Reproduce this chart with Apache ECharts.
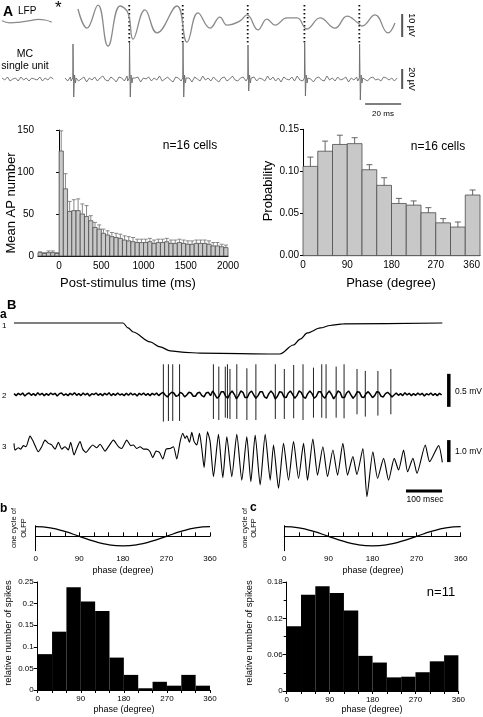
<!DOCTYPE html>
<html><head><meta charset="utf-8">
<script src="https://cdn.jsdelivr.net/npm/echarts@6/dist/echarts.min.js"></script>
<style>html,body{margin:0;padding:0;background:#fff}#c{width:483px;height:717px}</style>
</head><body><div id="c"></div>
<script>
// ---------------- DATA ----------------
// Panel A: LFP (ms, µV)
const LFP_TRACE = [[7.2,7.4],[12.2,-0.9],[18.3,9.1],[23.9,-8.7],[30.6,8.7],[35.0,5.7],[37.8,-5.7],[44.4,7.0],[51.1,-3.0],[62.2,8.7],[67.8,-7.0],[73.9,5.7],[80.6,-0.9],[86.1,3.9],[90.0,0.4],[97.2,2.2],[101.1,4.8],[107.2,-1.7],[112.2,3.0],[116.7,0.4],[123.3,3.5],[128.9,3.5],[134.4,-1.3],[141.7,3.5],[150.0,-0.9],[156.7,4.3],[162.8,1.3],[165.0,0],[172.2,4.8],[179.4,-3.0],[183.3,1.3]];
const LFP_PRE = [[0,2.3],[4.4,1.4],[10,1.7],[15.6,2.3],[20.2,2.9],[23.9,2.6],[27.6,1.7]];
// MC single unit (µV), sampled every 1.5 ms
const UNIT_NOISE = [1,-2,2,-1,3,-2,0,2,-3,1,-1,2,-2,1,3,-1,-2,2,0,-3,2,1,-2,3,-1,-2,1,2,-3,1,0,2,-2,1,-1,3,-2,0,2,-1,-3,2,1,-2,2,-1,1,-3,2,0,-2,3,-1,1,-2,2,-1,-3,1,2,-2,0,3,-1,-2,1,2,-3,1,-1,2,-2,1,0,-2,3,-1,2,-2,1,-3,2,0,-1,2,-2,3,-1,1,-2,2,0,-3,1,2,-1,-2,3,-1,1,-2,2,-1,0,2,-3,1,-1,2,-2,3,-1,-2,1,2,-1,0,-2,2,1,-1,1,-2,1];
const UNIT_PRE_NOISE = [1,-1,2,-2,0,1,-2,2,-1,1,-2,1,0,-1,2,-2,1,-1,2,0];
const SPIKE_TIMES = [4.3,35.7,65.4,101.5,133.0,163.5];
const SPIKE_PEAKS = [35,37,36,34,36,35];
const SPIKE_TROUGHS = [-18,-18,-18,-12,-17,-21];
const SPIKE_SHAPE_DT = [-0.9,-0.35,0,0.15,0.55,1.0,1.5,1.9];
const SPIKE_SHAPE_V = [-2,-4,1,null,null,4,-4,1]; // null -> peak / trough
// PSTH (50 ms bins from -250 ms)
const PSTH_MEAN = [4,3,4,4,3,125,80,53,54,54,50,47,42,34,32,27,25,23,22,21,19,18,17,16,16,16,17,15,16,16,17,15,15,16,15,14,14,15,15,15,14,12,12,11,10];
const PSTH_ERR = [1,1,2,2,1,24,18,12,13,14,12,13,6,6,5,5,5,5,5,5,5,5,5,4,4,4,4,4,4,4,4,4,4,4,4,4,4,4,4,4,4,4,4,3,3];
// Phase probability (30 deg bins)
const PHASE_PROB = [0.106,0.124,0.132,0.133,0.102,0.0835,0.062,0.060,0.051,0.039,0.034,0.072];
const PHASE_ERR = [0.011,0.012,0.011,0.007,0.006,0.009,0.006,0.005,0.006,0.005,0.006,0.006];
// Panel B traces (ms)
const TRACE1 = [[0,0],[303,0],[317,-0.16],[331,-0.29],[378,-0.61],[406,-0.77],[434,-0.9],[475,-0.95],[517,-0.97],[739,-1.0],[776,-0.71],[795,-0.52],[815,-0.32],[851,-0.16],[878,-0.08],[915,-0.03],[1190,0]];
const TRACE2 = [0.01,-0.02,0.015,-0.01,0.02,-0.025,0.005,0.02,-0.015,0.01,
-0.02,0.025,-0.01,0.015,-0.02,0.01,-0.015,0.02,-0.005,0.015,
-0.025,0.01,0.02,-0.015,0.005,-0.02,0.015,-0.01,0.025,-0.015,
0.01,-0.02,0.02,-0.01,0.015,-0.025,0.01,-0.005,0.02,-0.015,
0.01,-0.02,0.015,-0.01,0.025,-0.02,0.01,-0.015,0.02,-0.01,
0.005,-0.02,0.015,-0.015,0.02,-0.01,0.01,-0.025,0.015,-0.01,
0.02,-0.015,0.01,-0.02,0.015,-0.01,0.02,-0.02,0.01,
0.03,-0.01,-0.04,0.0,0.03,0.02,-0.03,-0.02,0.03,0.01,
-0.04,-0.01,0.03,0.02,-0.03,-0.03,0.02,0.03,-0.02,-0.04,
0.02,0.03,-0.02,
0.05,0.0,-0.06,-0.03,0.04,0.04,-0.03,-0.06,0.01,0.05,
0.0,-0.07,-0.02,0.05,0.03,-0.05,-0.05,0.02,0.05,-0.01,
-0.06,-0.02,0.04,0.04,-0.04,-0.06,0.01,0.05,0.01,-0.07,
-0.03,0.04,0.03,-0.04,-0.05,0.02,0.05,0.0,-0.06,-0.02,
0.05,0.03,-0.04,-0.06,0.01,0.05,0.01,-0.06,-0.03,0.04,
0.04,-0.03,-0.06,0.01,0.05,0.0,-0.07,-0.02,0.05,0.03,
-0.05,-0.05,0.02,0.05,-0.01,-0.06,-0.02,0.04,0.03,-0.04,
-0.05,0.01,0.04,0.0,-0.05,-0.02,0.04,0.03,-0.03,-0.04,
0.01,0.03,0.0,-0.04,-0.01,
0.02,-0.015,0.01,-0.02,0.025,-0.01,0.015,-0.02,0.01,-0.015,0.02,-0.01,0.015,-0.025,0.01,-0.01,0.02,-0.015,0.01,-0.02,0.015,-0.01];
const TRACE2_DT = 6;
const SPIKE2_T = [415,429,441,460,554,569,587,593,600,619,647,672,726,751,777,803,832,855,867,895,917,953,976,1011,1047];
const SPIKE2_TOP = [0.455,0.455,0.455,0.455,0.455,0.42,0.42,0.455,0.384,0.455,0.394,0.455,0.455,0.384,0.444,0.455,0.404,0.455,0.455,0.42,0.455,0.384,0.354,0.354,0.384];
const SPIKE2_BOT = [-0.414,-0.404,-0.404,-0.404,-0.374,-0.389,-0.354,-0.364,-0.374,-0.374,-0.389,-0.389,-0.374,-0.374,-0.364,-0.389,-0.354,-0.354,-0.364,-0.354,-0.364,-0.303,-0.338,-0.323,-0.303];
const TRACE3 = [[0,0.15],[2.8,-0.15],[12.1,-0.05],[18.6,-0.11],[26,0.05],[33.4,0],[44.5,0.48],[53.8,0.23],[67.7,-0.23],[77,0],[86.2,0.3],[95.5,0.15],[104.7,0.08],[114,-0.11],[123.3,0.2],[132.5,-0.11],[141.8,0],[151,-0.15],[157.5,0.2],[166.8,-0.38],[174.2,-0.08],[183.5,0.23],[190.9,-0.11],[200.2,-0.26],[209.4,-0.08],[218.7,0.08],[229.8,-0.05],[239.1,0.11],[253,-0.2],[262.3,0],[276.2,0.3],[290.1,0],[299.3,-0.08],[313.2,0.3],[324.4,0.05],[331.8,0.08],[341,-0.08],[350.3,0],[359.6,-0.11],[368.8,-0.11],[378.1,-0.23],[385.5,-0.5],[394.8,-0.2],[404.1,-0.26],[413.3,-0.56],[422.6,-0.11],[433.7,-0.08],[443,0],[452.2,-0.56],[461.5,0.23],[468.9,0.61],[475.4,0.38],[480,0.5],[487.5,0.2],[493.9,0.65],[500.4,0.23],[507.8,0.08],[515.3,0.61],[521.7,-0.08],[528.2,-0.95],[537.5,0.68],[544.9,0.23],[554.2,-1.36],[568.1,0.56],[580.1,-1.41],[591.3,0.45],[605.1,-1.36],[619,0.56],[632.9,-1.52],[646.8,0.45],[658,-1.59],[670,0.53],[683.9,-1.74],[697.8,0.56],[711.7,-1.52],[721,0.08],[734.9,-1.89],[748.8,0.15],[762.7,-1.52],[776.6,0.23],[790.5,-1.44],[804.4,0.15],[815.5,-1.52],[830.3,0.35],[843.3,-1.29],[858.1,0],[871.1,-1.36],[885.9,-0.15],[898.9,-1.29],[913.7,0.15],[926.7,-1.29],[941.5,-0.45],[952.6,-1.26],[969.3,-0.08],[980.5,-2.27],[997.1,-0.23],[1010.1,-1.44],[1026.8,-0.53],[1040.7,-1.52],[1056.4,-0.53],[1068.5,-1.06],[1082.4,-0.15],[1093.5,-1.14],[1108.3,-0.53],[1119.5,-1.21],[1142.6,0.08],[1154.7,-0.68],[1179.7,0.05],[1190,-0.71]];
// Panels b / c
const OLFP_PHASE = [0,30,60,90,120,150,180,210,240,270,300,330,360];
const OLFP_VAL = [1,0.87,0.5,0,-0.5,-0.87,-1,-0.87,-0.5,0,0.5,0.87,1];
const HIST_B = [0.083,0.135,0.238,0.205,0.183,0.075,0.035,0.004,0.019,0.01,0.035,0.01];
const HIST_C = [0.107,0.159,0.173,0.162,0.133,0.058,0.047,0.0225,0.0236,0.031,0.049,0.059];

// ---------------- BUILD ----------------
const FONT = 'Liberation Sans, Arial, Helvetica, sans-serif';
function unitTrace(noise, dt, times, peaks, troughs) {
  const pts = [];
  noise.forEach((v, i) => {
    const t = i * dt;
    if (!times.some(s => t > s - 1.2 && t < s + 2.1)) pts.push([t, v]);
  });
  times.forEach((s, k) => {
    SPIKE_SHAPE_DT.forEach((d, j) => {
      let v = SPIKE_SHAPE_V[j];
      if (j === 3) v = peaks[k];
      if (j === 4) v = troughs[k];
      pts.push([s + d, v]);
    });
  });
  pts.sort((a, b) => a[0] - b[0]);
  return pts;
}
const unitMain = unitTrace(UNIT_NOISE, 1.5, SPIKE_TIMES, SPIKE_PEAKS, SPIKE_TROUGHS);
const unitPre = UNIT_PRE_NOISE.map((v, i) => [i * 1.5, v]);
const psthData = PSTH_MEAN.map((v, i) => [-250 + i * 50, -200 + i * 50, v, PSTH_ERR[i]]);
const phaseData = PHASE_PROB.map((v, i) => [i * 30, i * 30 + 30, v, PHASE_ERR[i]]);
const histBData = HIST_B.map((v, i) => [i * 30, i * 30 + 30, v, 0]);
const histCData = HIST_C.map((v, i) => [i * 30, i * 30 + 30, v, 0]);
const trace2 = TRACE2.map((v, i) => [i * TRACE2_DT, v]);
const spikes2 = SPIKE2_T.map((t, i) => [t, SPIKE2_TOP[i], SPIKE2_BOT[i]]);
const olfp = OLFP_PHASE.map((p, i) => [p, OLFP_VAL[i]]);

const grids = [
  {left:65, top:3, width:418, height:46},      //0 LFP
  {left:2, top:3, width:52, height:46},        //1 LFP pre
  {left:65, top:40, width:418, height:65},     //2 unit
  {left:2, top:40, width:52, height:65},       //3 unit pre
  {left:38, top:130, width:190, height:126},   //4 PSTH
  {left:303, top:129.3, width:177, height:126.4}, //5 phase
  {left:14, top:323, width:469, height:31},    //6 trace1
  {left:14, top:358, width:469, height:69.3},  //7 trace2
  {left:14, top:426.9, width:469, height:72.6},//8 trace3
  {left:35.7, top:525.7, width:174.3, height:25}, //9 sine b
  {left:37.7, top:582, width:172.3, height:108},  //10 hist b
  {left:284.3, top:525.7, width:176.4, height:25},//11 sine c
  {left:286.7, top:582, width:171.7, height:109}  //12 hist c
].map(g => Object.assign({containLabel:false, outerBoundsMode:'none'}, g));

const hid = (gi, min, max) => ({type:'value', gridIndex:gi, min, max, show:false, splitLine:{show:false}});
const lineAx = {show:true, lineStyle:{color:'#000', width:1}};
const lbl = (size, extra) => Object.assign({color:'#000', fontSize:size, fontFamily:FONT}, extra || {});

const xAxis = [
  hid(0,0,232.2), hid(1,0,28.9), hid(2,0,232.2), hid(3,0,28.9),
  {type:'value', gridIndex:4, min:-250, max:2000, interval:250, axisLine:lineAx, axisTick:{show:false}, splitLine:{show:false},
   axisLabel:lbl(10,{margin:5, formatter:v => (v >= 0 && v % 500 === 0) ? String(v) : ''})},
  {type:'value', gridIndex:5, min:0, max:360, interval:90, axisLine:lineAx, axisTick:{show:false}, splitLine:{show:false},
   axisLabel:lbl(10,{margin:5, alignMaxLabel:'right'})},
  hid(6,0,1303), hid(7,0,1303), hid(8,0,1303),
  {type:'value', gridIndex:9, min:0, max:360, interval:30, axisLine:lineAx, axisTick:{show:true, inside:true, length:4, lineStyle:{color:'#000'}}, splitLine:{show:false},
   axisLabel:lbl(8,{margin:4, formatter:v => v % 90 === 0 ? String(v) : ''})},
  {type:'value', gridIndex:10, min:0, max:360, interval:30, axisLine:lineAx, axisTick:{show:true, length:3, lineStyle:{color:'#000'}}, splitLine:{show:false},
   axisLabel:lbl(8,{margin:5, formatter:v => v % 90 === 0 ? String(v) : ''})},
  {type:'value', gridIndex:11, min:0, max:360, interval:30, axisLine:lineAx, axisTick:{show:true, inside:true, length:4, lineStyle:{color:'#000'}}, splitLine:{show:false},
   axisLabel:lbl(8,{margin:4, formatter:v => v % 90 === 0 ? String(v) : ''})},
  {type:'value', gridIndex:12, min:0, max:360, interval:30, axisLine:lineAx, axisTick:{show:true, length:3, lineStyle:{color:'#000'}}, splitLine:{show:false},
   axisLabel:lbl(8,{margin:5, formatter:v => v % 90 === 0 ? String(v) : ''})}
];
const yAxis = [
  hid(0,-10,10), hid(1,-10,10), hid(2,-26,39), hid(3,-26,39),
  {type:'value', gridIndex:4, min:0, max:150, interval:50, axisLine:lineAx, axisTick:{show:true, length:3, lineStyle:{color:'#000'}}, splitLine:{show:false}, axisLabel:lbl(10,{margin:4})},
  {type:'value', gridIndex:5, min:0, max:0.15, interval:0.05, axisLine:lineAx, axisTick:{show:true, length:3, lineStyle:{color:'#000'}}, splitLine:{show:false}, axisLabel:lbl(10,{margin:4, formatter:v => v.toFixed(2)})},
  hid(6,-1,0), hid(7,-0.5,0.55), hid(8,-2.4,0.9),
  {type:'value', gridIndex:9, min:-1.49, max:1.1, axisLine:lineAx, axisTick:{show:false}, axisLabel:{show:false}, splitLine:{show:false}},
  {type:'value', gridIndex:10, min:0, max:0.25, interval:0.05, axisLine:lineAx, axisTick:{show:true, length:4, lineStyle:{color:'#000'}}, splitLine:{show:false}, axisLabel:lbl(8,{margin:4})},
  {type:'value', gridIndex:11, min:-1.49, max:1.1, axisLine:lineAx, axisTick:{show:false}, axisLabel:{show:false}, splitLine:{show:false}},
  {type:'value', gridIndex:12, min:0, max:0.18, interval:0.06, axisLine:lineAx, axisTick:{show:true, length:4, lineStyle:{color:'#000'}}, minorTick:{show:true, splitNumber:2, length:3, lineStyle:{color:'#000'}}, splitLine:{show:false}, axisLabel:lbl(8,{margin:4})}
];

function histRender(fill, stroke, errColor, cap) {
  return function (params, api) {
    const x0 = api.value(0), x1 = api.value(1), v = api.value(2), e = api.value(3);
    const p0 = api.coord([x0, v]), p1 = api.coord([x1, 0]);
    const ch = [{type:'rect', shape:{x:p0[0], y:p0[1], width:p1[0]-p0[0], height:p1[1]-p0[1]},
      style:{fill:fill, stroke:stroke, lineWidth:stroke ? 0.8 : 0}}];
    if (e > 0) {
      const xm = (x0 + x1) / 2, a = api.coord([xm, v]), b = api.coord([xm, v + e]);
      ch.push({type:'line', shape:{x1:a[0], y1:a[1], x2:b[0], y2:b[1]}, style:{stroke:errColor, lineWidth:0.9}});
      ch.push({type:'line', shape:{x1:b[0]-cap, y1:b[1], x2:b[0]+cap, y2:b[1]}, style:{stroke:errColor, lineWidth:0.9}});
    }
    return {type:'group', children:ch};
  };
}
function vline(color, width, dash) {
  return function (params, api) {
    const a = api.coord([api.value(0), api.value(1)]), b = api.coord([api.value(0), api.value(2)]);
    return {type:'line', shape:{x1:a[0], y1:a[1], x2:b[0], y2:b[1]}, style:{stroke:color, lineWidth:width, lineDash:dash || null}};
  };
}
const L = (gi, data, color, width, smooth, extra) => Object.assign({type:'line', xAxisIndex:gi, yAxisIndex:gi, data, symbol:'none', showSymbol:false, silent:true,
  smooth: smooth || false, lineStyle:{color, width}, clip:false}, extra || {});

const series = [
  L(0, LFP_TRACE, '#8a8a8a', 1.3, 0.45),
  L(1, LFP_PRE, '#8a8a8a', 1.2, 0.5),
  {type:'custom', xAxisIndex:0, yAxisIndex:0, data:SPIKE_TIMES.slice(1).map(t => [t, 9.1, -7.4]), encode:{x:0, y:[1,2]}, renderItem:vline('#111', 1.8, [1.5, 2.5]), silent:true},
  L(0, [[187.3,5.2],[187.3,-4.8]], '#555', 2),
  L(2, unitMain, '#6a6a6a', 0.9),
  L(3, unitPre, '#6a6a6a', 0.9),
  L(2, [[187.3,10],[187.3,-10]], '#555', 2),
  L(2, [[166.7,-25],[186.7,-25]], '#000', 1.2),
  {type:'custom', xAxisIndex:4, yAxisIndex:4, data:psthData, encode:{x:[0,1], y:2}, renderItem:histRender('#c8c8c8', '#4d4d4d', '#7a7a7a', 2), silent:true},
  {type:'custom', xAxisIndex:5, yAxisIndex:5, data:phaseData, encode:{x:[0,1], y:2}, renderItem:histRender('#c8c8c8', '#4d4d4d', '#555', 3), silent:true},
  L(6, TRACE1, '#000', 1.2, 0.3, {smoothMonotone:'x'}),
  L(7, trace2, '#000', 1.5),
  {type:'custom', xAxisIndex:7, yAxisIndex:7, data:spikes2, encode:{x:0, y:[1,2]}, renderItem:vline('#222', 1), silent:true},
  L(7, [[1208,0.31],[1208,-0.19]], '#000', 3.5),
  L(8, TRACE3, '#000', 1.1, 0.2),
  L(8, [[1208,0.3],[1208,-0.7]], '#000', 3.5),
  L(8, [[1089,-2.01],[1189,-2.01]], '#000', 3),
  L(9, olfp, '#000', 1.3, true),
  {type:'custom', xAxisIndex:10, yAxisIndex:10, data:histBData, encode:{x:[0,1], y:2}, renderItem:histRender('#000', null, '#000', 0), silent:true},
  L(11, olfp, '#000', 1.3, true),
  {type:'custom', xAxisIndex:12, yAxisIndex:12, data:histCData, encode:{x:[0,1], y:2}, renderItem:histRender('#000', null, '#000', 0), silent:true}
];

const T = (text, x, y, size, opts) => {
  opts = opts || {};
  return {type:'text', x, y, rotation: opts.rot || 0, silent:true,
    style:{text, font:(opts.bold ? 'bold ' : '') + size + 'px ' + FONT, fill:'#000',
      textAlign: opts.align || 'center', textVerticalAlign: opts.va || 'middle'}};
};
const R = Math.PI / 2;
const graphic = [
  T('A', 3, 12, 14, {bold:true, align:'left'}),
  T('LFP', 18, 11, 10, {align:'left'}),
  T('*', 55, 0, 17, {align:'left', va:'top'}),
  T('MC', 25, 54, 10.5),
  T('single unit', 25, 66, 10.5),
  T('10 µV', 411, 25, 9, {rot:-R}),
  T('20 µV', 411, 79, 9, {rot:-R}),
  T('20 ms', 383, 114, 8),
  T('Mean AP number', 11, 203, 13, {rot:R}),
  T('Post-stimulus time (ms)', 128, 283, 13),
  T('n=16 cells', 190, 146, 12),
  T('Probability', 268, 191, 13, {rot:R}),
  T('Phase (degree)', 391, 283, 13),
  T('n=16 cells', 438, 147, 12),
  T('B', 7, 305, 13, {bold:true, align:'left'}),
  T('a', 0, 315, 12, {bold:true, align:'left'}),
  T('1', 2, 326, 8, {align:'left'}),
  T('2', 2, 396, 8, {align:'left'}),
  T('3', 2, 447, 8, {align:'left'}),
  T('0.5 mV', 455, 392, 8.5, {align:'left'}),
  T('1.0 mV', 455, 452, 8.5, {align:'left'}),
  T('100 msec', 425, 500, 8.5),
  T('b', 0, 509, 12, {bold:true, align:'left'}),
  T('c', 250, 508, 12, {bold:true, align:'left'}),
  T('one cycle of', 14, 528, 7.5, {rot:R}),
  T('OLFP', 24, 528, 7.5, {rot:R}),
  T('one cycle of', 245, 528, 7.5, {rot:R}),
  T('OLFP', 254, 528, 7.5, {rot:R}),
  T('phase (degree)', 123, 571, 9),
  T('phase (degree)', 373, 571, 9),
  T('relative number of spikes', 8, 633, 9.5, {rot:R}),
  T('relative number of spikes', 249, 633, 9.5, {rot:R}),
  T('phase (degree)', 124, 710, 9),
  T('phase (degree)', 372, 710, 9),
  T('n=11', 441, 592, 13)
];

const chart = echarts.init(document.getElementById('c'), null, {renderer:'canvas', width:483, height:717});
chart.setOption({animation:false, backgroundColor:'#fff', textStyle:{fontFamily:FONT}, grid:grids, xAxis, yAxis, series, graphic});
</script></body></html>
